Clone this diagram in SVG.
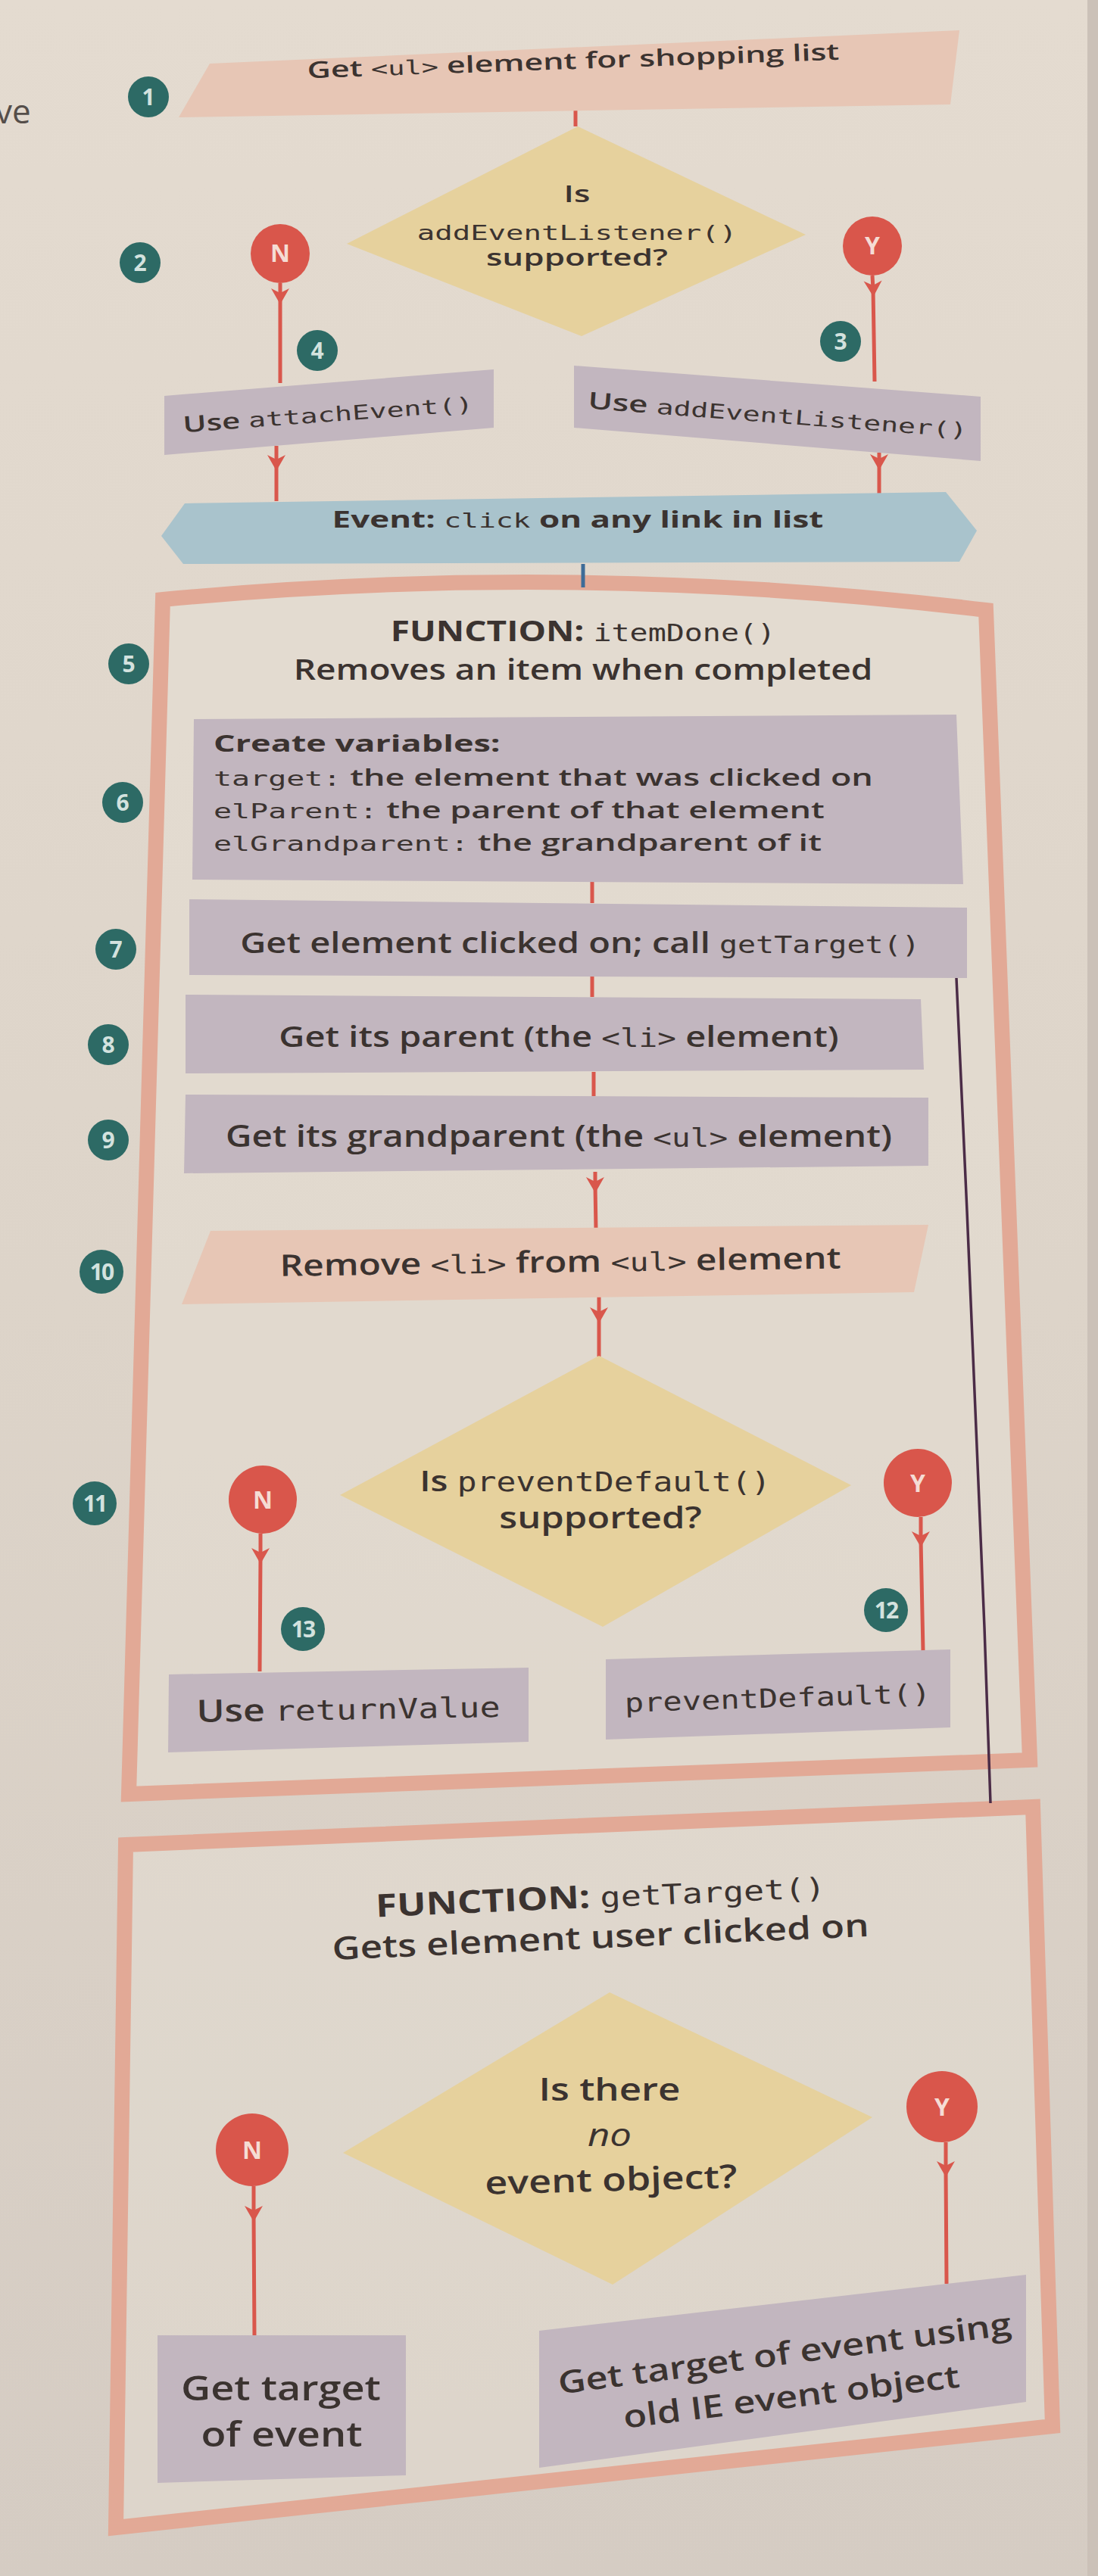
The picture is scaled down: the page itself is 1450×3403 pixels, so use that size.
<svg xmlns="http://www.w3.org/2000/svg" width="1450" height="3403" viewBox="0 0 1450 3403">
<defs>
<linearGradient id="bg" x1="0" y1="0" x2="0" y2="1">
<stop offset="0" stop-color="#e4dbd0"/>
<stop offset="0.5" stop-color="#ddd4c9"/>
<stop offset="1" stop-color="#d5ccc3"/>
</linearGradient>
<marker id="ah" viewBox="-14 -14 28 28" markerWidth="28" markerHeight="28" markerUnits="userSpaceOnUse" orient="auto" refX="0" refY="0">
<path d="M10,0 L-11,-12 L-5,0 L-11,12 Z" fill="#d9574c"/>
</marker>
<style>
.t{font-family:"Open Sans","Liberation Sans",sans-serif;font-weight:600;font-size:44px;fill:#3b3330;text-anchor:middle}
.l{text-anchor:start}
.b{font-weight:700}
.i{font-style:italic;font-weight:400}
.m{font-family:"DejaVu Sans Mono","Liberation Mono",monospace;font-weight:400}
.q1{transform-box:fill-box;transform-origin:center;transform:scaleY(.7)}
.q2{transform-box:fill-box;transform-origin:center;transform:scaleY(.82)}
.q3{transform-box:fill-box;transform-origin:center;transform:scaleY(.68)}
.proc{fill:#c2b6bf}
.act{fill:#e7c6b5}
.dec{fill:#e6d19d}
.evt{fill:#a9c3cc}
.fn{fill:#e6dfd5;fill-opacity:.45;stroke:#e2a996;stroke-width:20;stroke-linejoin:miter}
.badge circle{fill:#2d6a65}
.badge text{font-family:"Open Sans","Liberation Sans",sans-serif;font-weight:700;font-size:30px;fill:#d3e2de;text-anchor:middle}
.yn circle{fill:#d9564b}
.yn text{font-family:"Open Sans","Liberation Sans",sans-serif;font-weight:700;font-size:32px;fill:#f5dcd4;text-anchor:middle}
.ln{fill:none;stroke:#d9574c;stroke-width:5}
</style>
</defs>

<rect width="1450" height="3403" fill="url(#bg)"/>
<rect x="1436" y="0" width="14" height="3403" fill="#cbc1b8"/>
<text class="t l" x="-6" y="163" style="font-size:44px;font-weight:400;fill:#554e4a">ve</text>

<!-- function containers -->
<g id="fn-itemDone">
<path class="fn" d="M215,792 Q760,740 1302,806 L1360,2325 L170,2370 Z"/>
<text class="t b q2" x="770" y="850" style="font-size:46px">FUNCTION: <tspan class="m" style="font-size:40px">itemDone()</tspan></text>
<text class="t q2" x="770" y="901" style="font-size:46px">Removes an item when completed</text>
</g>
<g id="fn-getTarget">
<path class="fn" d="M166,2437 L1364,2387 L1390,3205 L153,3339 Z"/>
<g transform="rotate(-2.5 793 2504)"><text class="t b q2" x="793" y="2523" style="font-size:51px">FUNCTION: <tspan class="m" style="font-size:45px">getTarget()</tspan></text></g>
<g transform="rotate(-2.5 793 2558)"><text class="t q2" x="793" y="2577" style="font-size:51px">Gets element user clicked on</text></g>
</g>

<!-- connectors -->
<g id="connectors">
<path class="ln" d="M760,102 L760,124 L760,167" marker-mid="url(#ah)"/>
<path class="ln" d="M370,374 L370,392 L370,506" marker-mid="url(#ah)"/>
<path class="ln" d="M1152,364 L1153,382 L1155,504" marker-mid="url(#ah)"/>
<path class="ln" d="M365,589 L365,612 L365,662" marker-mid="url(#ah)"/>
<path class="ln" d="M1161,598 L1161,611 L1161,652" marker-mid="url(#ah)"/>
<path d="M770,745 L770,776" fill="none" stroke="#3e6c98" stroke-width="5"/>
<path class="ln" d="M782,1164 L782,1193"/>
<path class="ln" d="M782,1290 L782,1317"/>
<path class="ln" d="M784,1416 L784,1448"/>
<path class="ln" d="M786,1548 L786,1566 L787,1624" marker-mid="url(#ah)"/>
<path class="ln" d="M791,1710 L791,1738 L791,1792" marker-mid="url(#ah)"/>
<path class="ln" d="M344,2026 L344,2056 L343,2208" marker-mid="url(#ah)"/>
<path class="ln" d="M1216,2004 L1216,2034 L1219,2181" marker-mid="url(#ah)"/>
<path class="ln" d="M335,2888 L335,2925 L336,3086" marker-mid="url(#ah)"/>
<path class="ln" d="M1249,2830 L1249,2866 L1250,3017" marker-mid="url(#ah)"/>
<path d="M1263,1292 L1277,1600 L1300,2150 L1308,2382" fill="none" stroke="#4b2c47" stroke-width="3.5"/>
</g>

<!-- nodes -->
<g id="n1">
<polygon class="act" points="277,84 1267,40 1255,138 236,155"/>
<g transform="rotate(-2 757 82)"><text class="t q1" x="757" y="96" style="font-size:43px">Get <tspan class="m" style="font-size:37px">&lt;ul&gt;</tspan> element for shopping list</text></g>
</g>
<g id="d1">
<polygon class="dec" points="763,167 1064,310 768,444 458,322"/>
<text class="t q1" x="762" y="272">Is</text>
<text class="t m q1" x="762" y="321" style="font-size:39px">addEventListener()</text>
<text class="t q1" x="762" y="356">supported?</text>
</g>
<g id="n1-no" class="yn"><circle cx="370" cy="335" r="39"/><text x="370" y="346">N</text></g>
<g id="n1-yes" class="yn"><circle cx="1152" cy="325" r="39"/><text x="1152" y="336">Y</text></g>
<g id="n-attach">
<polygon class="proc" points="217,523 652,488 652,565 217,601"/>
<g transform="rotate(-4.2 433 546)"><text class="t q1" x="433" y="562" style="font-size:42px">Use <tspan class="m" style="font-size:38px">attachEvent()</tspan></text></g>
</g>
<g id="n-addlistener">
<polygon class="proc" points="758,483 1295,524 1295,609 758,565"/>
<g transform="rotate(4.4 1027 548)"><text class="t q1" x="1027" y="564">Use <tspan class="m" style="font-size:38px">addEventListener()</tspan></text></g>
</g>
<g id="n-event">
<polygon class="evt" points="213,708 244,665 1249,650 1290,701 1267,742 242,745"/>
<text class="t b q1" x="763" y="702">Event: <tspan class="m" style="font-size:38px">click</tspan> on any link in list</text>
</g>
<g id="n6">
<polygon class="proc" points="256,950 1263,944 1272,1168 254,1162"/>
<text class="t l b q3" x="282" y="999" style="font-size:45px">Create variables:</text>
<text class="t l q3" x="282" y="1044" style="font-size:45px"><tspan class="m" style="font-size:40px">target:</tspan> the element that was clicked on</text>
<text class="t l q3" x="282" y="1087" style="font-size:45px"><tspan class="m" style="font-size:40px">elParent:</tspan> the parent of that element</text>
<text class="t l q3" x="282" y="1130" style="font-size:45px"><tspan class="m" style="font-size:40px">elGrandparent:</tspan> the grandparent of it</text>
</g>
<g id="n7">
<polygon class="proc" points="250,1188 1277,1199 1277,1292 250,1288"/>
<text class="t q2" x="766" y="1262" style="font-size:47px">Get element clicked on; call <tspan class="m" style="font-size:40px">getTarget()</tspan></text>
</g>
<g id="n8">
<polygon class="proc" points="245,1314 1216,1320 1220,1413 245,1418"/>
<text class="t q2" x="738" y="1386" style="font-size:47px">Get its parent (the <tspan class="m" style="font-size:41px">&lt;li&gt;</tspan> element)</text>
</g>
<g id="n9">
<polygon class="proc" points="245,1446 1226,1450 1226,1540 243,1550"/>
<text class="t q2" x="738" y="1518" style="font-size:47.5px">Get its grandparent (the <tspan class="m" style="font-size:41px">&lt;ul&gt;</tspan> element)</text>
</g>
<g id="n10">
<polygon class="act" points="278,1626 1226,1618 1207,1707 240,1723"/>
<g transform="rotate(-0.8 740 1667)"><text class="t q2" x="740" y="1684" style="font-size:48px">Remove <tspan class="m" style="font-size:41.5px">&lt;li&gt;</tspan> from <tspan class="m" style="font-size:41.5px">&lt;ul&gt;</tspan> element</text></g>
</g>
<g id="d2">
<polygon class="dec" points="791,1791 1124,1962 796,2149 449,1975"/>
<text class="t q2" x="786" y="1973" style="font-size:47px">Is <tspan class="m" style="font-size:43px">preventDefault()</tspan></text>
<text class="t q2" x="793" y="2022" style="font-size:49px">supported?</text>
</g>
<g id="d2-no" class="yn"><circle cx="347" cy="1981" r="45"/><text x="347" y="1993">N</text></g>
<g id="d2-yes" class="yn"><circle cx="1212" cy="1959" r="45"/><text x="1212" y="1971">Y</text></g>
<g id="n-returnValue">
<polygon class="proc" points="223,2212 698,2203 698,2301 222,2315"/>
<g transform="rotate(-1 460 2257)"><text class="t q2" x="460" y="2275" style="font-size:50px">Use <tspan class="m" style="font-size:45px">returnValue</tspan></text></g>
</g>
<g id="n-preventDefault">
<polygon class="proc" points="800,2192 1255,2179 1255,2282 800,2298"/>
<g transform="rotate(-1.8 1027 2241)"><text class="t m q2" x="1027" y="2258" style="font-size:42px">preventDefault()</text></g>
</g>
<g id="d3">
<polygon class="dec" points="805,2632 1152,2797 809,3018 453,2844"/>
<text class="t q2" x="805" y="2779" style="font-size:51px">Is there</text>
<text class="t i q2" x="805" y="2839" style="font-size:51px">no</text>
<g transform="rotate(-1.5 807 2880)"><text class="t q2" x="807" y="2898" style="font-size:52px">event object?</text></g>
</g>
<g id="d3-no" class="yn"><circle cx="333" cy="2840" r="48"/><text x="333" y="2852">N</text></g>
<g id="d3-yes" class="yn"><circle cx="1244" cy="2783" r="47"/><text x="1244" y="2795">Y</text></g>
<g id="n-target">
<polygon class="proc" points="208,3085 536,3085 536,3270 208,3280"/>
<text class="t q2" x="371" y="3175" style="font-size:54px">Get target</text>
<text class="t q2" x="372" y="3236" style="font-size:54px">of event</text>
</g>
<g id="n-oldie">
<polygon class="proc" points="712,3079 1355,3005 1355,3173 712,3260"/>
<g transform="rotate(-7.5 1036 3109)"><text class="t q2" x="1036" y="3127" style="font-size:50.5px">Get target of event using</text></g>
<g transform="rotate(-7 1045 3166)"><text class="t q2" x="1045" y="3184" style="font-size:50.5px">old IE event object</text></g>
</g>

<!-- step badges -->
<g id="b1" class="badge"><circle cx="196" cy="128" r="27"/><text x="196" y="139">1</text></g>
<g id="b2" class="badge"><circle cx="185" cy="347" r="27"/><text x="185" y="358">2</text></g>
<g id="b3" class="badge"><circle cx="1110" cy="451" r="27"/><text x="1110" y="462">3</text></g>
<g id="b4" class="badge"><circle cx="419" cy="463" r="27"/><text x="419" y="474">4</text></g>
<g id="b5" class="badge"><circle cx="170" cy="877" r="27"/><text x="170" y="888">5</text></g>
<g id="b6" class="badge"><circle cx="162" cy="1060" r="27"/><text x="162" y="1071">6</text></g>
<g id="b7" class="badge"><circle cx="153" cy="1254" r="27"/><text x="153" y="1265">7</text></g>
<g id="b8" class="badge"><circle cx="143" cy="1380" r="27"/><text x="143" y="1391">8</text></g>
<g id="b9" class="badge"><circle cx="143" cy="1506" r="27"/><text x="143" y="1517">9</text></g>
<g id="b10" class="badge"><circle cx="134" cy="1680" r="29"/><text x="134" y="1691" style="letter-spacing:-2px">10</text></g>
<g id="b11" class="badge"><circle cx="125" cy="1986" r="29"/><text x="125" y="1997" style="letter-spacing:-2px">11</text></g>
<g id="b12" class="badge"><circle cx="1170" cy="2127" r="29"/><text x="1170" y="2138" style="letter-spacing:-2px">12</text></g>
<g id="b13" class="badge"><circle cx="400" cy="2152" r="29"/><text x="400" y="2163" style="letter-spacing:-2px">13</text></g>
</svg>
